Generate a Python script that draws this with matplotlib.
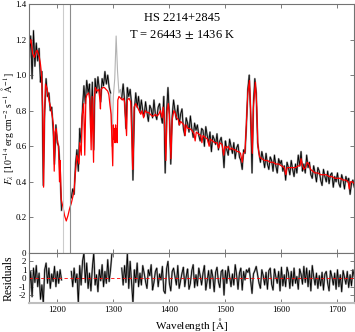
import numpy as np
import matplotlib
matplotlib.use('Agg')
import matplotlib.pyplot as plt

plt.rcParams['font.family'] = 'serif'
plt.rcParams['font.serif'] = ['Liberation Serif', 'DejaVu Serif']
plt.rcParams['mathtext.fontset'] = 'stix'

# observed spectrum on a 2.5 A grid
wave = np.arange(1150, 1730.1, 2.5)
flux = np.array([
    1.10, 1.22, 0.98, 1.25, 1.05, 1.18, 1.08, 1.15, 0.96, 1.02,
    0.38, 0.80, 0.98, 0.88, 0.90, 0.80, 0.82, 0.70, 0.50, 0.72,
    0.62, 0.60, 0.45, 0.24, np.nan, np.nan, np.nan, np.nan, np.nan, np.nan,
    0.31, 0.36, 0.33, 0.50, 0.58, 0.46, 0.70, 0.62, 0.82, 0.94,
    0.84, 0.97, 0.90, 0.95, 0.70, 0.96, 0.58, 0.98, 0.90, 0.99,
    0.92, 0.85, 0.98, 0.94, 1.02, 0.95, 1.00, 0.93, 0.90, 0.60,
    0.88, 0.98, 1.22, 1.02, 0.90, 0.92, 0.87, 0.95, 0.86, 0.70,
    0.93, 0.88, 0.92, 0.84, 0.41, 0.80, 0.90, 0.82, 0.88, 0.79,
    0.86, 0.80, 0.77, 0.85, 0.79, 0.74, 0.83, 0.81, 0.76, 0.86,
    0.78, 0.75, 0.82, 0.84, 0.77, 0.73, 0.88, 0.45, 0.79, 0.93,
    0.78, 0.50, 0.77, 0.86, 0.80, 0.75, 0.83, 0.72, 0.78, 0.81,
    0.70, 0.66, 0.76, 0.73, 0.68, 0.77, 0.70, 0.65, 0.73, 0.69,
    0.72, 0.66, 0.63, 0.70, 0.69, 0.60, 0.71, 0.66, 0.62, 0.68,
    0.57, 0.66, 0.64, 0.61, 0.67, 0.58, 0.63, 0.65, 0.59, 0.48,
    0.63, 0.58, 0.55, 0.64, 0.60, 0.56, 0.62, 0.53, 0.59, 0.61,
    0.54, 0.52, 0.47, 0.58, 0.56, 0.72, 0.92, 1.00, 0.78, 0.45,
    0.84, 0.98, 0.90, 0.62, 0.56, 0.51, 0.57, 0.53, 0.48, 0.56,
    0.50, 0.47, 0.54, 0.52, 0.46, 0.55, 0.49, 0.45, 0.53, 0.50,
    0.52, 0.46, 0.49, 0.41, 0.51, 0.48, 0.44, 0.52, 0.47, 0.43,
    0.50, 0.45, 0.55, 0.49, 0.57, 0.46, 0.50, 0.45, 0.55, 0.48,
    0.51, 0.44, 0.42, 0.49, 0.45, 0.40, 0.48, 0.46, 0.41, 0.38,
    0.47, 0.43, 0.40, 0.46, 0.39, 0.44, 0.45, 0.37, 0.43, 0.40,
    0.45, 0.39, 0.37, 0.44, 0.41, 0.36, 0.43, 0.40, 0.42, 0.33,
    0.39, 0.41, 0.37])

resid = np.array([
    -1.5, 0.8, -2.2, 1.2, -0.5, 1.5, -1.0, 0.6, -2.5, -0.8,
    -3.0, 1.0, 1.8, -0.6, 1.2, -1.2, 0.5, -0.4, 1.4, -1.0,
    0.8, -0.6, 1.0, -0.2, np.nan, np.nan, np.nan, np.nan, np.nan, np.nan,
    0.8, -1.0, 1.2, -0.5, 0.5, -3.0, 1.5, -0.8, 2.0, 3.0,
    -0.5, 1.8, -1.2, 0.6, -1.5, 1.2, 3.0, -0.8, 0.4, -1.6,
    1.0, -0.3, 1.6, -1.0, 0.8, -0.6, 2.2, -0.4, 1.0, 3.0,
    np.nan, np.nan, np.nan, np.nan, np.nan, np.nan, 1.2, -0.8, 1.5, -0.5,
    3.0, -1.2, 2.0, -0.6, -3.0, 1.0, -0.5, 1.8, -1.0, 0.6,
    -0.8, 1.5, 0.6, -0.4, -1.2, 1.0, 0.3, 1.6, -1.4, -0.5,
    0.8, 1.2, -1.0, 0.5, -0.2, 1.4, -1.5, -1.8, 1.1, 2.0,
    -0.6, -1.5, 0.8, 1.2, 0.2, -0.8, 1.5, -1.2, -0.3, 0.6,
    1.3, -1.0, 0.2, 1.1, -1.3, -0.6, 0.9, 1.6, -1.1, 0.4,
    -0.9, 1.2, 0.3, -0.8, 0.6, 1.5, -1.4, -0.3, 0.9, -1.2,
    1.0, 0.2, -1.6, 0.7, 1.3, -0.4, -1.1, 0.8, 1.0, -2.0,
    0.9, -0.6, 1.4, 0.2, -1.0, 0.5, -0.8, 1.6, 0.4, -1.3,
    0.6, 1.2, -1.4, 0.8, -0.2, 1.0, 0.7, 1.2, -0.3, -1.8,
    0.5, 0.9, 1.4, 0.4, -0.6, -1.2, 1.0, 0.3, -0.8, 0.7,
    -1.3, 0.9, 1.2, -0.7, -1.4, 1.1, 0.2, -0.6, 0.8, -1.5,
    1.3, -0.9, 0.4, -1.0, 1.3, 0.6, -1.2, 0.8, -0.9, 1.2,
    -0.6, 0.2, -1.3, 1.1, 0.5, -0.7, 1.4, -0.5, 1.2, -1.0,
    0.9, -1.5, 1.5, 0.2, -0.8, 0.6, -1.2, 0.3, -0.9, 0.7,
    -1.4, 0.5, 0.8, -0.6, -1.5, 0.9, 0.2, -0.8, 0.6, -1.3,
    1.0, -1.0, 0.4, -1.6, 0.9, 0.1, -0.7, 0.8, -1.1, 0.4,
    -0.9, 1.0, 0.2])

# airglow-contaminated points (O I 1302-1306) shown in grey
masked = (wave >= 1297.5) & (wave <= 1312.5)

model_wave = [1150, 1153, 1156, 1159, 1162, 1164, 1166, 1168, 1170, 1172,
              1174, 1175.5, 1177, 1179, 1182, 1185, 1188, 1191, 1193, 1194.5,
              1196, 1198, 1200, 1202, 1204, 1205, 1207, 1210, 1213, 1216,
              1219, 1222, 1225, 1228, 1230, 1232, 1235, 1238.8, 1240, 1242.8,
              1244, 1247, 1249, 1251, 1253, 1256, 1258, 1260.4, 1262, 1264.7,
              1266, 1268, 1271, 1274, 1276, 1277, 1278, 1281, 1284, 1287,
              1290, 1292, 1294, 1296, 1298.9, 1300, 1301, 1302.2, 1303, 1304,
              1304.9, 1306, 1306.8, 1308, 1310, 1313, 1316, 1318, 1320, 1323.6,
              1325, 1328, 1331, 1334.5, 1335.7, 1337, 1340, 1343, 1346, 1349,
              1351, 1354, 1357, 1360, 1363, 1366, 1369, 1372, 1375, 1378,
              1381, 1384, 1387, 1389, 1391, 1393.8, 1396, 1398, 1400, 1402.8,
              1405, 1408, 1410, 1413, 1416, 1418, 1420, 1423, 1426, 1428,
              1430, 1433, 1436, 1440, 1444, 1446, 1448, 1452, 1456, 1458,
              1460, 1464, 1468, 1471, 1473, 1477, 1481, 1485, 1488, 1490,
              1494, 1497, 1499, 1502, 1505, 1508, 1511, 1515, 1518, 1521,
              1524, 1527, 1530, 1532, 1535, 1537, 1540, 1543, 1545, 1548,
              1550, 1553.5, 1556, 1558, 1561, 1565, 1570, 1575, 1580, 1585,
              1590, 1595, 1600, 1605, 1608, 1610, 1615, 1620, 1625, 1630,
              1633, 1635, 1637, 1640, 1643, 1646, 1649, 1652, 1656, 1660,
              1665, 1670, 1675, 1680, 1685, 1690, 1695, 1700, 1705, 1710,
              1715, 1719, 1721, 1723, 1727, 1730]
model_flux = [1.17, 1.20, 1.12, 1.10, 1.13, 1.14, 1.12, 1.10, 1.06, 1.00,
              0.80, 0.37, 0.75, 0.95, 0.92, 0.86, 0.82, 0.77, 0.72, 0.46,
              0.68, 0.70, 0.64, 0.60, 0.40, 0.52, 0.30, 0.26, 0.21, 0.18,
              0.21, 0.25, 0.28, 0.32, 0.35, 0.44, 0.55, 0.50, 0.62, 0.55,
              0.76, 0.84, 0.55, 0.87, 0.89, 0.90, 0.86, 0.58, 0.88, 0.51,
              0.87, 0.93, 0.91, 0.92, 0.86, 0.81, 0.92, 0.93, 0.93, 0.92,
              0.91, 0.89, 0.83, 0.78, 0.49, 0.72, 0.64, 0.70, 0.62, 0.72,
              0.64, 0.70, 0.62, 0.86, 0.88, 0.87, 0.86, 0.87, 0.85, 0.66,
              0.86, 0.87, 0.85, 0.47, 0.55, 0.82, 0.84, 0.82, 0.80, 0.78,
              0.80, 0.76, 0.80, 0.79, 0.79, 0.78, 0.77, 0.77, 0.78, 0.77,
              0.78, 0.80, 0.76, 0.82, 0.75, 0.52, 0.80, 0.84, 0.78, 0.53,
              0.75, 0.80, 0.79, 0.76, 0.75, 0.72, 0.74, 0.73, 0.72, 0.66,
              0.72, 0.70, 0.70, 0.69, 0.67, 0.63, 0.68, 0.67, 0.66, 0.62,
              0.66, 0.65, 0.64, 0.60, 0.64, 0.63, 0.62, 0.62, 0.59, 0.62,
              0.61, 0.55, 0.60, 0.59, 0.60, 0.58, 0.59, 0.58, 0.58, 0.57,
              0.57, 0.56, 0.51, 0.56, 0.57, 0.70, 0.90, 0.97, 0.80, 0.56,
              0.82, 0.96, 0.82, 0.60, 0.54, 0.53, 0.52, 0.52, 0.51, 0.51,
              0.50, 0.50, 0.49, 0.48, 0.44, 0.48, 0.48, 0.48, 0.48, 0.49,
              0.49, 0.53, 0.50, 0.47, 0.48, 0.51, 0.50, 0.47, 0.46, 0.45,
              0.45, 0.44, 0.44, 0.44, 0.43, 0.43, 0.42, 0.42, 0.42, 0.41,
              0.41, 0.40, 0.36, 0.40, 0.40, 0.39]

lya_lines = [1209.5, 1222.5]

fig = plt.figure(figsize=(3.55, 3.32), dpi=100)
ax = fig.add_axes([0.0825, 0.238, 0.9155, 0.75])
axr = fig.add_axes([0.0825, 0.086, 0.9155, 0.152], sharex=ax)

good = np.where(masked, np.nan, flux)
bad = np.where(masked | np.roll(masked, 1) | np.roll(masked, -1), flux, np.nan)
ax.plot(wave, bad, color='0.7', lw=0.8)
ax.plot(wave, good, color='0.6', lw=1.4)
ax.plot(wave, good, color='k', lw=0.6)
ax.plot(model_wave, model_flux, color='red', lw=0.9)
ax.axvline(lya_lines[0], color='0.8', lw=0.8)
ax.axvline(lya_lines[1], color='0.55', lw=0.8)

ax.text(0.47, 0.944, 'HS 2214+2845', transform=ax.transAxes,
        ha='center', va='center', fontsize=9)
ax.text(0.47, 0.875, r'T = 26443$\,\pm\,$1436 K', transform=ax.transAxes,
        ha='center', va='center', fontsize=9)

ax.set_xlim(1150, 1730)
ax.set_ylim(0, 1.4)
ax.set_yticks([0, 0.2, 0.4, 0.6, 0.8, 1.0, 1.2, 1.4])
ax.set_yticklabels(['0', '0.2', '0.4', '0.6', '0.8', '1.0', '1.2', '1.4'])
ax.set_ylabel(r'$F_\lambda$ [10$^{-14}$ erg cm$^{-2}$ s$^{-1}$ $\mathrm{\AA}^{-1}$]',
              fontsize=7)
ax.yaxis.set_label_coords(-0.041, 0.5)
plt.setp(ax.get_xticklabels(), visible=False)

axr.plot(wave, resid, color='0.6', lw=1.4)
axr.plot(wave, resid, color='k', lw=0.6)
axr.axhline(0, color='red', lw=0.6, ls=(0, (4, 3)))
axr.set_ylim(-3, 3)
axr.set_yticks([-2, -1, 0, 1, 2])
axr.set_yticklabels(['-2', '-1', '0', '1', '2'])
axr.set_xticks([1200, 1300, 1400, 1500, 1600, 1700])
axr.set_xlabel(r'Wavelength [$\mathrm{\AA}$]', fontsize=8, labelpad=1)
axr.set_ylabel('Residuals', fontsize=8.5)
axr.yaxis.set_label_coords(-0.045, 0.5)

for a in (ax, axr):
    a.tick_params(direction='in', top=True, right=True, labelsize=6.5,
                  length=3, width=0.6, pad=2, color='0.4')
    for s in a.spines.values():
        s.set_color('0.45')
        s.set_linewidth(0.8)
axr.spines['bottom'].set_color('0.75')
axr.spines['bottom'].set_linewidth(1.5)

fig.savefig('out.png', dpi=100)
